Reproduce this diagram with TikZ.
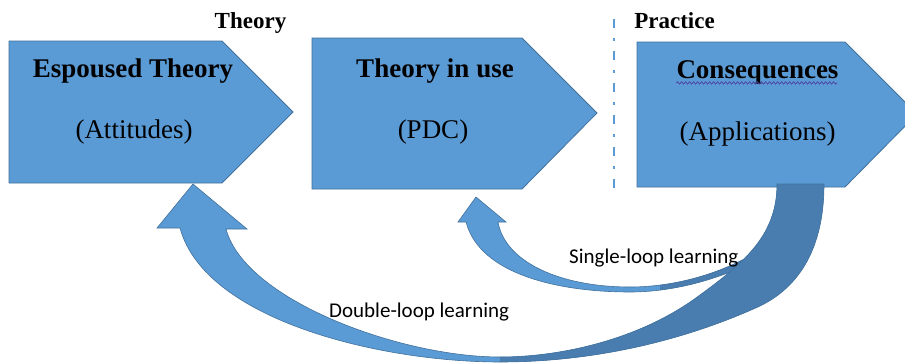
\documentclass[tikz,border=0pt]{standalone}
\usepackage{fontspec}
\setmainfont{Liberation Serif}
\newfontfamily\calib{Carlito}
\usetikzlibrary{decorations.pathmorphing}
\definecolor{boxblue}{HTML}{5B9BD5}
\definecolor{edgeblue}{HTML}{41719C}
\definecolor{backblue}{HTML}{4A7DAF}
\definecolor{wavyblue}{HTML}{5040A0}
\newcommand\dblpath{(193,184) -- (157,228) -- (180,228) .. controls (205,320) and (380,362) .. (500,362) .. controls (600,362) and (690,338) .. (760,306) .. controls (805,284) and (824,240) .. (824,184) -- (777,184) .. controls (777,235) and (745,262) .. (700,295) .. controls (640,340) and (560,357) .. (500,357) .. controls (400,357) and (245,300) .. (226,229) -- (247,229) -- cycle}
\newcommand\sglpath{(476,197) -- (458,222) -- (466,222) .. controls (480,275) and (560,292) .. (630,292) .. controls (680,292) and (740,275) .. (790,240) -- (785,232) .. controls (740,270) and (680,287) .. (630,287) .. controls (560,287) and (505,262) .. (498,222) -- (506,222) -- cycle}
\begin{document}
\begin{tikzpicture}[x=1pt,y=-1pt,
  boxshape/.style={fill=boxblue,draw=edgeblue,line width=0.8pt},
  arrowedge/.style={draw=edgeblue,line width=0.6pt},
  bigtitle/.style={font=\fontsize{27}{32}\selectfont\bfseries,anchor=base,inner sep=0pt},
  subtitle/.style={font=\fontsize{27}{32}\selectfont,anchor=base,inner sep=0pt},
  header/.style={font=\fontsize{23}{28}\selectfont\bfseries,anchor=base,inner sep=0pt},
  looplabel/.style={font=\calib\fontsize{21}{25}\selectfont,anchor=base west,inner sep=0pt},
  divider/.style={draw=boxblue,line width=2.5pt,dash pattern=on 9pt off 10pt on 3pt off 10pt}]
\useasboundingbox (0,0) rectangle (905,364);
\clip (0,0) rectangle (905,364);
\fill[white] (0,0) rectangle (905,364);
% boxes
\path[boxshape] (9,41) -- (222,41) -- (293,112) -- (222,183) -- (9,183) -- cycle;
\path[boxshape] (312,38) -- (522,38) -- (597,113) -- (522,189) -- (312,189) -- cycle;
\path[boxshape] (637,42) -- (845,42) -- (917,114) -- (845,187) -- (637,187) -- cycle;
% divider
\coordinate (dtop) at (614,19);
\coordinate (dbot) at (614,189);
\draw[divider] (dtop) -- (dbot);
% single loop arrow
\fill[boxblue] \sglpath;
\begin{scope}
\clip (660,0) rectangle (905,364);
\fill[backblue] \sglpath;
\end{scope}
\draw[arrowedge] \sglpath;
% double loop arrow
\fill[boxblue] \dblpath;
\begin{scope}
\clip (500,0) rectangle (905,364);
\fill[backblue] \dblpath;
\end{scope}
\draw[arrowedge] \dblpath;
% texts
\node[header] (hT) at (250.5,28) {Theory};
\node[header] (hP) at (674.5,28) {Practice};
\node[bigtitle] (t1) at (133,77) {Espoused Theory};
\node[subtitle] (s1) at (134,138) {(Attitudes)};
\node[bigtitle] (t2) at (435,77) {Theory in use};
\node[subtitle] (s2) at (433,138) {(PDC)};
\node[bigtitle] (t3) at (757.5,78) {Consequences};
\node[subtitle] (s3) at (757.5,140) {(Applications)};
\draw[wavyblue,line width=0.7pt,decorate,decoration={snake,amplitude=1.2pt,segment length=4pt}] (t3.south west) ++(0,-1) -- ++(161,0);
\node[looplabel] (sl) at (569,263) {Single-loop learning};
\node[looplabel] (dl) at (329,317) {Double-loop learning};
\end{tikzpicture}
\end{document}
